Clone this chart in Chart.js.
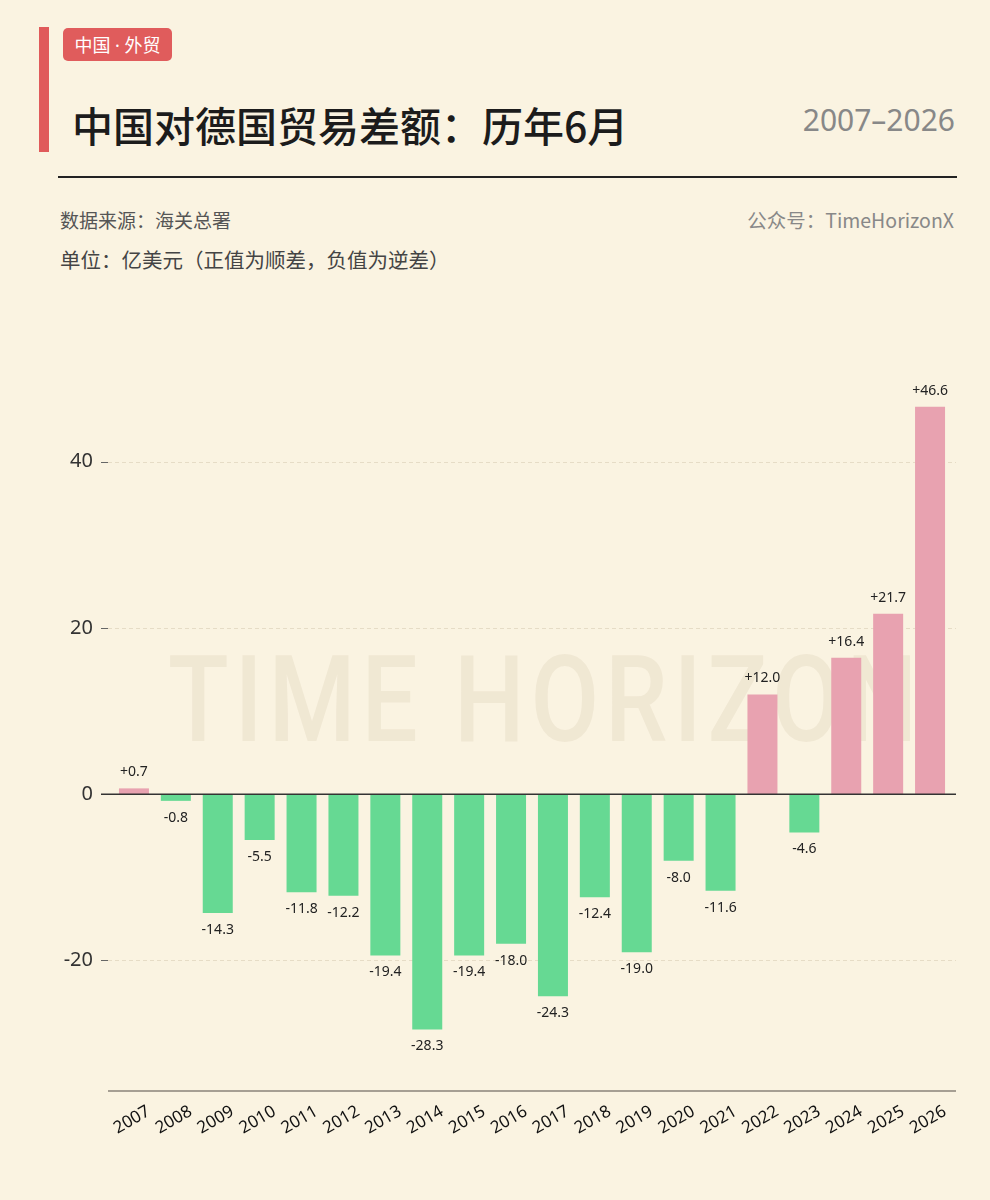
<!DOCTYPE html>
<html lang="zh">
<head>
<meta charset="UTF-8">
<title>中国对德国贸易差额：历年6月</title>
<script src="https://cdn.jsdelivr.net/npm/chart.js"></script>
<style>
  body { margin: 0; background: #faf3e1; width: 990px; height: 1200px; position: relative; overflow: hidden;
         font-family: "Noto Sans CJK SC", "Noto Sans", sans-serif; }
  .abs { position: absolute; white-space: nowrap; }
  #accent { left: 39px; top: 27px; width: 10px; height: 125px; background: #e05a5a; }
  #tag { left: 63px; top: 28px; width: 109px; height: 33px; background: #e05c5c; border-radius: 5px;
         color: #fff; font-size: 18px; line-height: 33px; text-align: center; }
  #tag .dot { font-family: "Noto Sans", sans-serif; }
  #title { left: 72px; top: 95px; font-size: 41px; font-weight: 500; color: #1c1c1c; line-height: 58px; }
  #range { right: 35px; top: 98px; font-size: 30px; color: #888; line-height: 44px; font-family: "Noto Sans", sans-serif; }
  #rule { left: 58px; top: 176px; width: 899px; height: 2px; background: #222; }
  #source { left: 60px; top: 205px; font-size: 19px; color: #555; line-height: 30px; }
  #account { right: 36px; top: 205px; font-size: 19.5px; color: #888; line-height: 30px; }
  #unit { left: 60px; top: 244px; font-size: 20.5px; color: #444; line-height: 30px; }
  #watermark { left: 168px; top: 630px; font-size: 120px; font-weight: 500; letter-spacing: 7px;
               color: rgba(140, 115, 70, 0.085); font-family: Roboto, "Noto Sans", sans-serif; line-height: 140px;
               transform-origin: 0 0; transform: scaleX(0.83); }
  #chart { position: absolute; left: 0; top: 290px; }
</style>
</head>
<body>
<div class="abs" id="accent"></div>
<div class="abs" id="tag">中国<span class="dot"> · </span>外贸</div>
<div class="abs" id="title">中国对德国贸易差额：历年6月</div>
<div class="abs" id="range">2007–2026</div>
<div class="abs" id="rule"></div>
<div class="abs" id="source">数据来源：海关总署</div>
<div class="abs" id="account">公众号：TimeHorizonX</div>
<div class="abs" id="unit">单位：亿美元（正值为顺差，负值为逆差）</div>
<div class="abs" id="watermark">TIME HORIZON</div>
<canvas id="chart" width="990" height="910"></canvas>

<script>
  // 历年6月 中国对德国贸易差额（亿美元）
  const years = ["2007", "2008", "2009", "2010", "2011", "2012", "2013", "2014", "2015", "2016",
                 "2017", "2018", "2019", "2020", "2021", "2022", "2023", "2024", "2025", "2026"];
  const balance = [0.7, -0.8, -14.3, -5.5, -11.8, -12.2, -19.4, -28.3, -19.4, -18.0,
                   -24.3, -12.4, -19.0, -8.0, -11.6, 12.0, -4.6, 16.4, 21.7, 46.6];
  const yTicks = [-20, 0, 20, 40];

  const POS = "#e8a2b0";
  const NEG = "#66d993";

  const fmt = v => (v > 0 ? "+" : "") + v.toFixed(1);

  // grid lines, zero line, bottom axis line
  const gridPlugin = {
    id: "grid",
    beforeDatasetsDraw(chart) {
      const ctx = chart.ctx;
      const y = chart.scales.y;
      ctx.save();
      ctx.lineWidth = 1;
      yTicks.forEach(v => {
        const py = Math.round(y.getPixelForValue(v)) + 0.5;
        // tick mark
        ctx.setLineDash([]);
        ctx.strokeStyle = "#666";
        ctx.beginPath();
        ctx.moveTo(101, py);
        ctx.lineTo(108, py);
        ctx.stroke();
        if (v === 0) return;
        ctx.strokeStyle = "#e6dcc6";
        ctx.setLineDash([4, 3]);
        ctx.beginPath();
        ctx.moveTo(108, py);
        ctx.lineTo(956, py);
        ctx.stroke();
      });
      ctx.setLineDash([]);
      ctx.strokeStyle = "#8a8378";
      ctx.lineWidth = 1.5;
      const by = chart.chartArea.bottom;
      ctx.beginPath();
      ctx.moveTo(108, by);
      ctx.lineTo(956, by);
      ctx.stroke();
      ctx.restore();
    },
    afterDatasetsDraw(chart) {
      const ctx = chart.ctx;
      const y = chart.scales.y;
      const x = chart.scales.x;
      ctx.save();
      // zero line over bars
      ctx.strokeStyle = "#333";
      ctx.lineWidth = 1.5;
      const zy = y.getPixelForValue(0);
      ctx.beginPath();
      ctx.moveTo(101, zy);
      ctx.lineTo(956, zy);
      ctx.stroke();

      // value labels
      ctx.font = '14px "Noto Sans", sans-serif';
      ctx.fillStyle = "#222";
      ctx.textAlign = "center";
      ctx.textBaseline = "middle";
      chart.getDatasetMeta(0).data.forEach((bar, i) => {
        const v = balance[i];
        const ty = v >= 0 ? bar.y - 16 : bar.y + 17;
        ctx.fillText(fmt(v), bar.x, ty);
      });

      // rotated year labels, centred on each bar
      ctx.font = '17px "Noto Sans", sans-serif';
      ctx.fillStyle = "#111";
      years.forEach((lab, i) => {
        const px = x.getPixelForValue(i);
        ctx.save();
        ctx.translate(px - 2, chart.chartArea.bottom + 29);
        ctx.rotate(-Math.PI / 6);
        ctx.fillText(lab, 0, 0);
        ctx.restore();
      });
      ctx.restore();
    }
  };

  new Chart(document.getElementById("chart").getContext("2d"), {
    type: "bar",
    data: {
      labels: years,
      datasets: [{
        data: balance,
        backgroundColor: balance.map(v => v >= 0 ? POS : NEG),
        borderWidth: 0,
        barPercentage: 0.716,
        categoryPercentage: 1.0
      }]
    },
    options: {
      responsive: false,
      animation: false,
      layout: { padding: { top: 3, bottom: 109, left: 0, right: 39 } },
      plugins: { legend: { display: false }, tooltip: { enabled: false } },
      scales: {
        x: {
          display: false
        },
        y: {
          min: -35.7,
          max: 56.8,
          afterBuildTicks(scale) { scale.ticks = yTicks.map(v => ({ value: v })); },
          afterFit(scale) { scale.width = 113; },
          grid: { display: false, drawTicks: false },
          border: { display: false },
          ticks: {
            padding: 20,
            color: "#333",
            font: { size: 20, family: '"Noto Sans", sans-serif' }
          }
        }
      }
    },
    plugins: [gridPlugin]
  });
</script>
</body>
</html>
